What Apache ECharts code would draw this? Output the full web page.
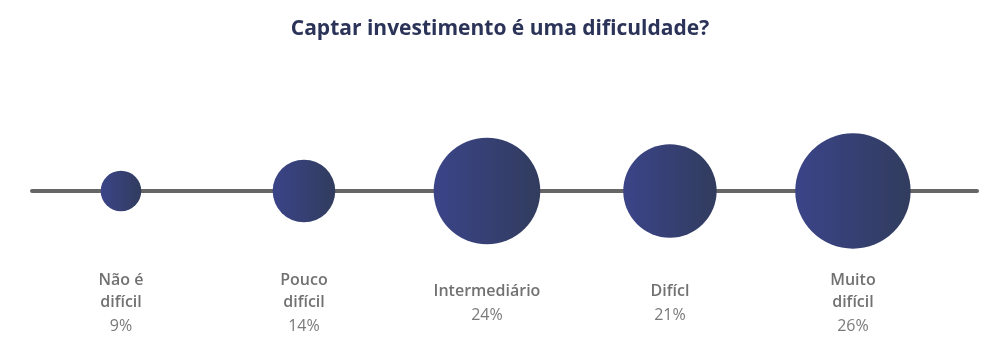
<!DOCTYPE html>
<html>
<head>
<meta charset="utf-8">
<script src="https://cdn.jsdelivr.net/npm/echarts@6/dist/echarts.min.js"></script>
<style>
  html, body { margin: 0; padding: 0; background: #fff; }
  #chart { width: 1000px; height: 352px; }
</style>
</head>
<body>
<div id="chart"></div>
<script>
const categories = ['Não é\ndifícil', 'Pouco\ndifícil', 'Intermediário', 'Difícl', 'Muito\ndifícil'];
const percents = [9, 14, 24, 21, 26];

const FONT = '"Open Sans", sans-serif';

// bubble diameter grows with the share
const bubbleSize = (value) => 4.4 * value + 1;

const bubbleData = percents.map((value, i) => [i, 0, value]);
const labelData = percents.map((value, i) => [i, -1, value]);

const chart = echarts.init(document.getElementById('chart'));

const option = {
  animation: false,
  title: {
    text: 'Captar investimento é uma dificuldade?',
    left: 'center',
    top: 14,
    textStyle: {
      fontFamily: FONT,
      fontSize: 21,
      fontWeight: 'bold',
      color: '#2b3358',
    },
  },
  grid: {
    left: 32,
    right: 23,
    top: 78,
    bottom: 48,
  },
  xAxis: {
    type: 'value',
    min: -0.4863,
    max: 4.678,
    axisLine: {
      show: true,
      onZero: true,
      lineStyle: { color: '#666', width: 4, cap: 'round' },
    },
    axisTick: { show: false },
    axisLabel: { show: false },
    splitLine: { show: false },
  },
  yAxis: {
    type: 'value',
    min: -1,
    max: 1,
    show: false,
  },
  series: [
    {
      type: 'scatter',
      data: bubbleData,
      symbolSize: (d) => bubbleSize(d[2]),
      z: 5,
      itemStyle: {
        opacity: 1,
        color: {
          type: 'linear',
          x: 0, y: 0, x2: 1, y2: 0,
          colorStops: [
            { offset: 0, color: '#3b4488' },
            { offset: 1, color: '#313c5e' },
          ],
        },
      },
    },
    {
      type: 'scatter',
      data: labelData,
      symbolSize: 1,
      itemStyle: { color: 'transparent' },
      label: {
        show: true,
        position: 'inside',
        formatter: (p) => {
          const name = categories[p.dataIndex]
            .split('\n')
            .map((line) => '{name|' + line + '}')
            .join('\n');
          return name + '\n{pct|' + p.value[2] + '%}';
        },
        rich: {
          name: {
            fontFamily: FONT,
            fontSize: 16,
            fontWeight: 600,
            color: '#4d4d4d',
            lineHeight: 22,
            align: 'center',
          },
          pct: {
            fontFamily: FONT,
            fontSize: 16,
            color: '#585858',
            lineHeight: 25,
            align: 'center',
          },
        },
      },
    },
  ],
};

chart.setOption(option);
</script>
</body>
</html>
